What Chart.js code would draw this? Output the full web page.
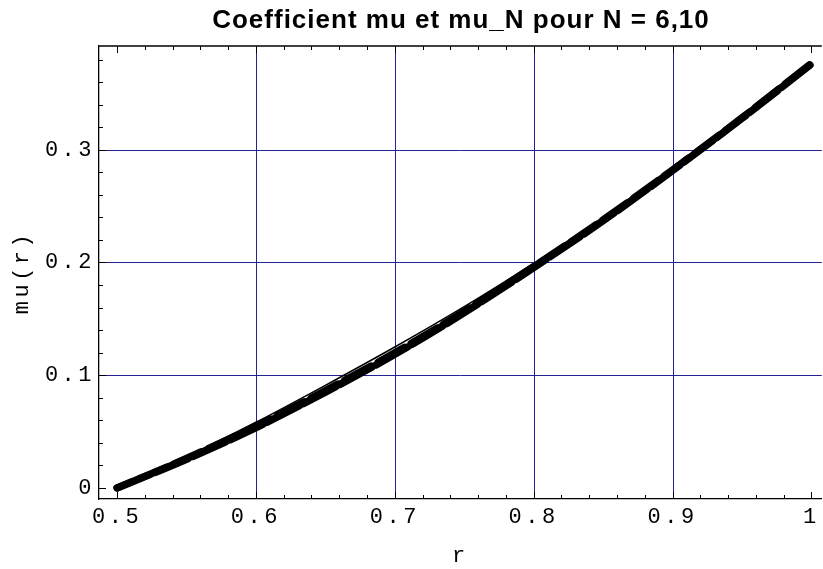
<!DOCTYPE html>
<html>
<head>
<meta charset="utf-8">
<script src="https://cdn.jsdelivr.net/npm/chart.js@4/dist/chart.umd.min.js"></script>
<style>
html,body{margin:0;padding:0;background:#fff;}
canvas{display:block;}
</style>
</head>
<body>
<canvas id="c" width="823" height="569"></canvas>
<script>
const titleText = 'Coefficient mu et mu_N pour N = 6,10';
const xTitle = 'r';
const yTitle = 'mu(r)';
const r = [0.5, 0.55, 0.6, 0.65, 0.7, 0.75, 0.8, 0.85, 0.9, 0.95, 1.0];
const mu   = [0, 0.0278, 0.0582, 0.0910, 0.1250, 0.1608, 0.1992, 0.2400, 0.2835, 0.3295, 0.3775];
const mu6  = [0, 0.0255, 0.0535, 0.0850, 0.1185, 0.1555, 0.1955, 0.2370, 0.2815, 0.3278, 0.3762];
const mu10 = [0, 0.0263, 0.0550, 0.0865, 0.1200, 0.1568, 0.1965, 0.2380, 0.2822, 0.3285, 0.3768];
const xTickValues = [0.5, 0.6, 0.7, 0.8, 0.9, 1.0];
const xTickLabels = ['0.5', '0.6', '0.7', '0.8', '0.9', '1'];
const yTickValues = [0, 0.1, 0.2, 0.3];
const yTickLabels = ['0', '0.1', '0.2', '0.3'];
const xGrid = [0.6, 0.7, 0.8, 0.9];
const yGrid = [0.1, 0.2, 0.3];

const pts = ys => r.map((x, i) => ({x: x, y: ys[i]}));
const gridBlue = 'rgb(34,34,150)';
const mono = '"Liberation Mono", "DejaVu Sans Mono", monospace';

const framePlugin = {
  id: 'frame',
  beforeDraw(chart) {
    chart.ctx.letterSpacing = '3.5px';
  },
  beforeDatasetsDraw(chart) {
    const ctx = chart.ctx;
    const xs = chart.scales.x, ys = chart.scales.y;
    const a = chart.chartArea;
    ctx.save();
    ctx.lineWidth = 1;
    ctx.strokeStyle = gridBlue;
    xGrid.forEach(v => {
      const px = Math.round(xs.getPixelForValue(v)) + 0.5;
      ctx.beginPath(); ctx.moveTo(px, a.top); ctx.lineTo(px, a.bottom); ctx.stroke();
    });
    yGrid.forEach(v => {
      const py = Math.round(ys.getPixelForValue(v)) + 0.5;
      ctx.beginPath(); ctx.moveTo(a.left, py); ctx.lineTo(a.right, py); ctx.stroke();
    });
    ctx.restore();
  },
  afterDraw(chart) {
    const ctx = chart.ctx;
    const xs = chart.scales.x, ys = chart.scales.y;
    const a = chart.chartArea;
    ctx.save();
    ctx.strokeStyle = '#000';
    ctx.lineWidth = 1.3;
    ctx.beginPath();
    ctx.moveTo(a.left, a.top); ctx.lineTo(a.right, a.top);
    ctx.stroke();
    ctx.lineWidth = 1;
    for (let k = 0; k <= 25; k++) {
      const v = 0.5 + k * 0.02;
      const px = Math.round(xs.getPixelForValue(v)) + 0.5;
      const len = (k % 5 === 0) ? 7 : 4;
      ctx.beginPath();
      ctx.moveTo(px, a.bottom); ctx.lineTo(px, a.bottom - len);
      ctx.moveTo(px, a.top); ctx.lineTo(px, a.top + len);
      ctx.stroke();
    }
    for (let k = 0; k <= 19; k++) {
      const v = k * 0.02;
      const py = Math.round(ys.getPixelForValue(v)) + 0.5;
      const len = (k % 5 === 0) ? 7 : 4;
      ctx.beginPath();
      ctx.moveTo(a.left, py); ctx.lineTo(a.left + len, py);
      ctx.stroke();
    }
    ctx.letterSpacing = '1px';
    ctx.fillStyle = '#000';
    ctx.font = 'bold 26px "Liberation Sans", Arial, sans-serif';
    ctx.textAlign = 'center';
    ctx.textBaseline = 'middle';
    ctx.fillText(titleText, 461, 21);
    ctx.restore();
  }
};

new Chart(document.getElementById('c'), {
  type: 'line',
  data: {
    datasets: [
      {label: 'mu_6', data: pts(mu6), borderColor: '#000', borderWidth: 7.5, borderDash: [36, 5], borderCapStyle: 'round', pointRadius: 0, cubicInterpolationMode: 'monotone', fill: false},
      {label: 'mu_10', data: pts(mu10), borderColor: '#000', borderWidth: 7, borderDash: [30, 8], borderDashOffset: 14, borderCapStyle: 'round', pointRadius: 0, cubicInterpolationMode: 'monotone', fill: false},
      {label: 'mu', data: pts(mu), borderColor: '#000', borderWidth: 1.6, pointRadius: 0, cubicInterpolationMode: 'monotone', fill: false}
    ]
  },
  options: {
    responsive: false,
    animation: false,
    events: [],
    layout: {padding: {top: 46, left: 0, right: 0, bottom: 0}},
    plugins: {legend: {display: false}, title: {display: false}, tooltip: {enabled: false}},
    scales: {
      x: {
        type: 'linear', min: 0.487, max: 1.0075,
        afterBuildTicks: s => { s.ticks = xTickValues.map(v => ({value: v})); },
        afterFit: s => { s.height = 70; },
        ticks: {callback: (v, i) => xTickLabels[i], color: '#000', font: {family: mono, size: 22}, padding: 5, maxRotation: 0, autoSkip: false},
        grid: {display: false, drawTicks: false},
        border: {display: true, color: '#000', width: 1.3},
        title: {display: true, text: xTitle, color: '#000', font: {family: mono, size: 22}, padding: {top: 0, bottom: 0}}
      },
      y: {
        type: 'linear', min: -0.0098, max: 0.392,
        afterBuildTicks: s => { s.ticks = yTickValues.map(v => ({value: v})); },
        afterFit: s => { s.width = 99; },
        ticks: {callback: (v, i) => yTickLabels[i], color: '#000', font: {family: mono, size: 22}, padding: 4, autoSkip: false},
        grid: {display: false, drawTicks: false},
        border: {display: true, color: '#000', width: 1.3},
        title: {display: true, text: yTitle, color: '#000', font: {family: mono, size: 22}, padding: {top: 9, bottom: 0}}
      }
    }
  },
  plugins: [framePlugin]
});
</script>
</body>
</html>
